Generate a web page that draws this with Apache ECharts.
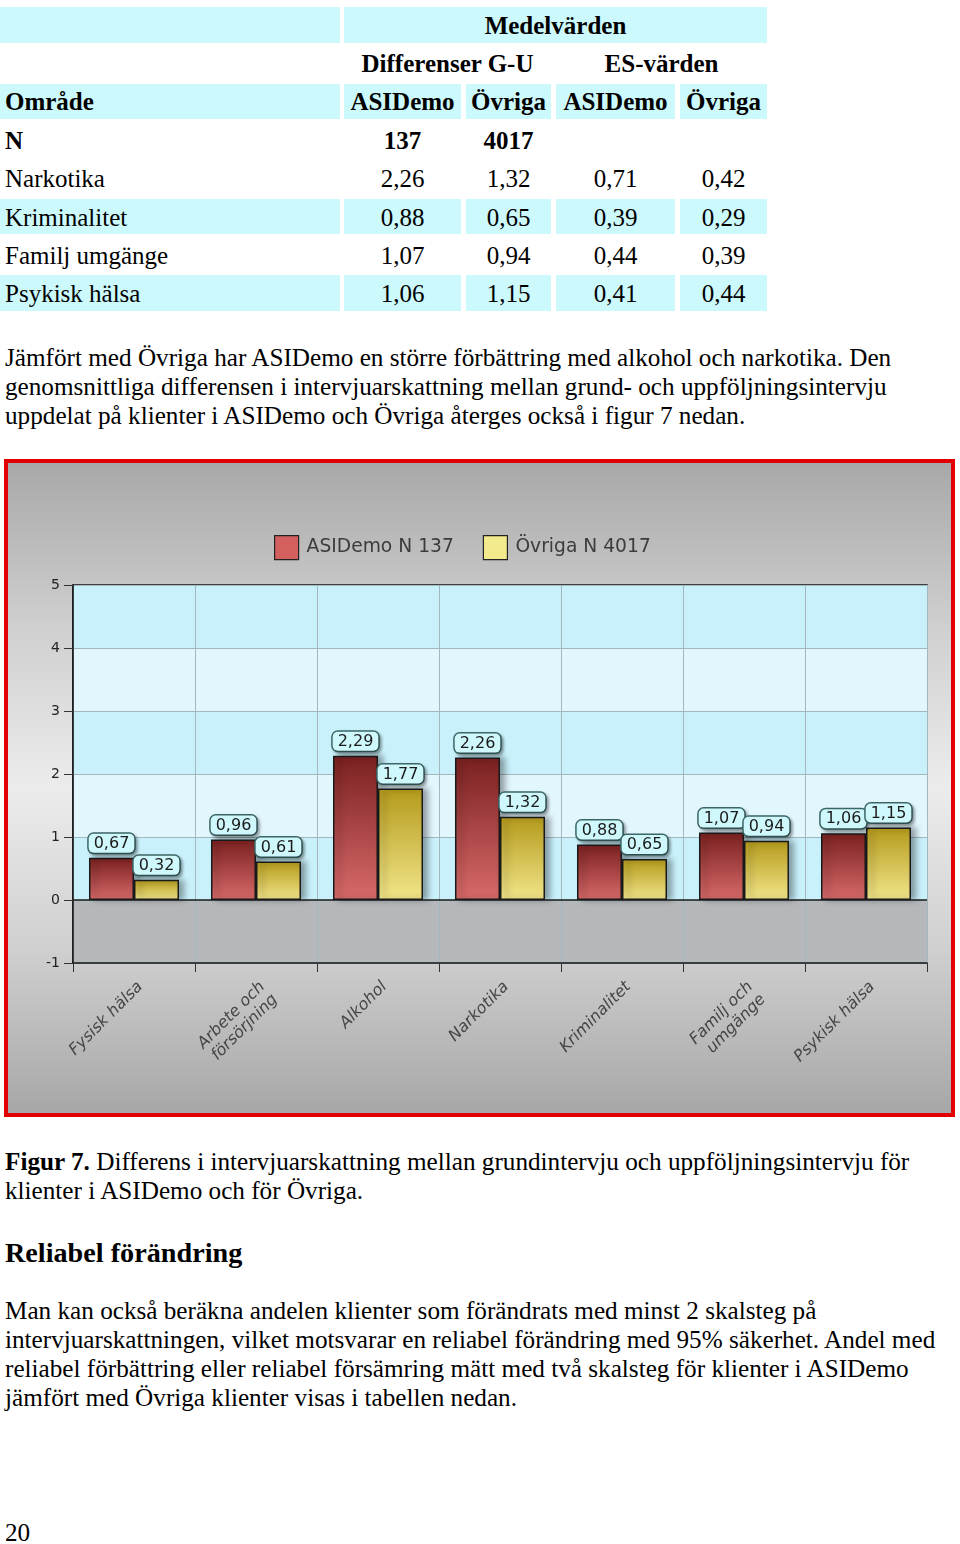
<!DOCTYPE html>
<html><head><meta charset="utf-8">
<script src="https://cdn.jsdelivr.net/npm/echarts@6/dist/echarts.min.js"></script>
<style>
html,body{margin:0;padding:0;background:#fff;}
body{width:960px;height:1544px;position:relative;overflow:hidden;font-family:'Liberation Serif','Times New Roman',serif;color:#000;}
.ln{position:absolute;left:5px;white-space:nowrap;font-size:25.2px;line-height:30px;height:30px;}
.cell{position:absolute;background:#ccf9fb;}
.t{position:absolute;white-space:nowrap;font-size:25px;line-height:30px;height:30px;text-align:center;}
.b{font-weight:bold;}
#chart{position:absolute;left:4px;top:459px;width:951px;height:658px;border:4px solid #e20000;box-sizing:border-box;}
</style></head><body>
<div id="table"></div>
<div class="ln" style="top:343px">Jämfört med Övriga har ASIDemo en större förbättring med alkohol och narkotika. Den</div>
<div class="ln" style="top:372px">genomsnittliga differensen i intervjuarskattning mellan grund- och uppföljningsintervju</div>
<div class="ln" style="top:401px">uppdelat på klienter i ASIDemo och Övriga återges också i figur 7 nedan.</div>
<div id="chart"></div>
<div class="ln" style="top:1147px"><b>Figur 7.</b> Differens i intervjuarskattning mellan grundintervju och uppföljningsintervju för</div>
<div class="ln" style="top:1176px">klienter i ASIDemo och för Övriga.</div>
<div class="ln b" style="top:1237px;font-size:28.2px;line-height:32px;height:32px;">Reliabel förändring</div>
<div class="ln" style="top:1296px">Man kan också beräkna andelen klienter som förändrats med minst 2 skalsteg på</div>
<div class="ln" style="top:1325px">intervjuarskattningen, vilket motsvarar en reliabel förändring med 95% säkerhet. Andel med</div>
<div class="ln" style="top:1354px">reliabel förbättring eller reliabel försämring mätt med två skalsteg för klienter i ASIDemo</div>
<div class="ln" style="top:1383px">jämfört med Övriga klienter visas i tabellen nedan.</div>
<div class="ln" style="top:1518px">20</div>
<script>
// ---- table content ----
const tableAreas = ['Narkotika', 'Kriminalitet', 'Familj umgänge', 'Psykisk hälsa'];
const diffASIDemo = ['2,26', '0,88', '1,07', '1,06'];
const diffOvriga = ['1,32', '0,65', '0,94', '1,15'];
const esASIDemo = ['0,71', '0,39', '0,44', '0,41'];
const esOvriga = ['0,42', '0,29', '0,39', '0,44'];
const nValues = ['137', '4017'];

// ---- chart data ----
const categories = ['Fysisk hälsa', 'Arbete och\nförsörjning', 'Alkohol', 'Narkotika', 'Kriminalitet', 'Familj och\numgänge', 'Psykisk hälsa'];
const seriesNames = ['ASIDemo N 137', 'Övriga N 4017'];
const asidemoValues = [0.67, 0.96, 2.29, 2.26, 0.88, 1.07, 1.06];
const ovrigaValues = [0.32, 0.61, 1.77, 1.32, 0.65, 0.94, 1.15];
const yMin = -1, yMax = 5, yInterval = 1;

// ---- build table ----
(function () {
  const cols = [{l: 0, w: 340}, {l: 344, w: 117}, {l: 466, w: 85}, {l: 556, w: 119}, {l: 680, w: 87}];
  const rowTop = i => 7 + 38.35 * i;
  const rowH = 35.5;
  let h = '';
  const cell = (l, w, i) => { h += `<div class="cell" style="left:${l}px;top:${rowTop(i)}px;width:${w}px;height:${rowH}px"></div>`; };
  const txt = (l, w, i, s, bold, left) => {
    const top = rowTop(i) + rowH / 2 - 15 + 1;
    h += `<div class="t${bold ? ' b' : ''}" style="left:${left ? 5 : l}px;top:${top}px;${left ? '' : 'width:' + w + 'px;'}text-align:${left ? 'left' : 'center'}">${s}</div>`;
  };
  cell(0, 340, 0); cell(344, 423, 0);
  [2, 5, 7].forEach(r => cols.forEach(c => cell(c.l, c.w, r)));
  txt(344, 423, 0, 'Medelvärden', true);
  txt(344, 207, 1, 'Differenser G-U', true);
  txt(556, 211, 1, 'ES-värden', true);
  txt(0, 340, 2, 'Område', true, true);
  ['ASIDemo', 'Övriga', 'ASIDemo', 'Övriga'].forEach((s, k) => txt(cols[k + 1].l, cols[k + 1].w, 2, s, true));
  txt(0, 340, 3, 'N', true, true);
  nValues.forEach((s, k) => txt(cols[k + 1].l, cols[k + 1].w, 3, s, true));
  tableAreas.forEach((a, i) => {
    const r = 4 + i;
    txt(0, 340, r, a, false, true);
    [diffASIDemo[i], diffOvriga[i], esASIDemo[i], esOvriga[i]].forEach((s, k) => txt(cols[k + 1].l, cols[k + 1].w, r, s, false));
  });
  document.getElementById('table').innerHTML = h;
})();

// ---- chart ----
const fmt = v => v.toFixed(2).replace('.', ',');
const lin = stops => ({type: 'linear', x: 0, y: 0, x2: 0, y2: 1, colorStops: stops.map((c, i) => ({offset: i / (stops.length - 1), color: c}))});
const labelStyle = {
  show: true, position: 'top', distance: 5,
  formatter: p => fmt(p.value),
  fontFamily: 'DejaVu Sans', fontSize: 16, color: '#1b1b1b',
  backgroundColor: '#cff8fc', borderColor: '#3c6767', borderWidth: 1.5, borderRadius: 5,
  padding: [2, 5, 1, 5],
  shadowColor: 'rgba(0,0,0,0.3)', shadowBlur: 3, shadowOffsetX: 2, shadowOffsetY: 2
};
const barItem = (top, bottom) => ({
  color: lin([top, bottom]), borderColor: '#1a1a1a', borderWidth: 1.5,
  shadowColor: 'rgba(0,0,0,0.35)', shadowBlur: 6, shadowOffsetX: 5, shadowOffsetY: 0
});
const chart = echarts.init(document.getElementById('chart'), null, {renderer: 'canvas'});
chart.setOption({
  animation: false,
  backgroundColor: lin(['#a8a8a8', '#cfcfcf', '#ececec', '#cfcfcf', '#a7a7a7']),
  legend: {
    left: 261, top: 67, itemWidth: 24, itemHeight: 24, itemGap: 29, icon: 'rect',
    textStyle: {fontFamily: 'DejaVu Sans', fontSize: 18.7, color: '#3c3c3c', padding: [0, 0, 0, 3]},
    data: [
      {name: seriesNames[0], itemStyle: {color: '#d45f5f', borderColor: '#222', borderWidth: 1.2, shadowBlur: 0, shadowOffsetX: 0}},
      {name: seriesNames[1], itemStyle: {color: '#f3ea8e', borderColor: '#222', borderWidth: 1.2, shadowBlur: 0, shadowOffsetX: 0}}
    ]
  },
  grid: {left: 65, top: 122, right: 24, bottom: 150, show: true, borderColor: '#151515', borderWidth: 1.5, backgroundColor: 'transparent'},
  xAxis: {
    type: 'category', data: categories,
    axisLine: {onZero: false, lineStyle: {color: '#151515', width: 1.5}},
    axisTick: {show: true, length: 9, interval: 0, lineStyle: {color: '#333'}},
    splitLine: {show: true, interval: 0, lineStyle: {color: '#a4b6be', width: 1}},
    axisLabel: {interval: 0, rotate: 45, margin: 15, verticalAlign: 'top', fontStyle: 'italic', fontFamily: 'DejaVu Sans', fontSize: 16, lineHeight: 18, color: '#454545'}
  },
  yAxis: {
    type: 'value', min: yMin, max: yMax, interval: yInterval,
    axisLine: {show: true, lineStyle: {color: '#151515', width: 1.5}},
    axisTick: {show: true, length: 9, lineStyle: {color: '#333'}},
    axisLabel: {fontFamily: 'DejaVu Sans', fontSize: 14, color: '#222', margin: 13, padding: [0, 0, 8, 0]},
    splitLine: {show: true, lineStyle: {color: '#a4b6be', width: 1}},
    splitArea: {show: true, areaStyle: {color: ['#b4b8bb', '#c9f1fb', '#e2f6fd', '#c9f1fb', '#e2f6fd', '#c9f1fb']}}
  },
  series: [
    {
      name: seriesNames[0], type: 'bar', data: asidemoValues, barWidth: 45, barGap: '0%',
      itemStyle: barItem('#7a2020', '#d86a6a'), label: labelStyle,
      markLine: {silent: true, symbol: 'none', label: {show: false}, data: [{yAxis: 0}], lineStyle: {color: '#1a1a1a', width: 1.5, type: 'solid'}}
    },
    {
      name: seriesNames[1], type: 'bar', data: ovrigaValues, barWidth: 45,
      itemStyle: barItem('#b49a1c', '#f2e68a'), label: labelStyle
    }
  ]
});
</script>
</body></html>
